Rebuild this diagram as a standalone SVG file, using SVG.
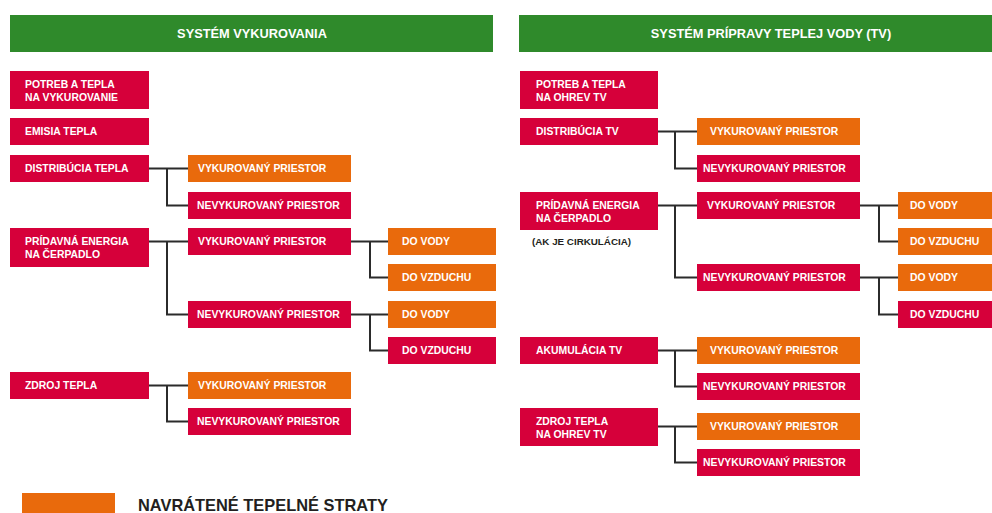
<svg xmlns="http://www.w3.org/2000/svg" width="992" height="513" viewBox="0 0 992 513">
<style>
.hdr{fill:#2f8a2b}
.r{fill:#d6003a}
.o{fill:#e96a0c}
.t{font-family:"Liberation Sans",Arial,sans-serif;font-weight:bold;font-size:10.4px;fill:#ffffff}
.h{font-family:"Liberation Sans",Arial,sans-serif;font-weight:bold;font-size:12.8px;fill:#ffffff;text-anchor:middle}
.d{font-family:"Liberation Sans",Arial,sans-serif;font-weight:bold;fill:#231f20}
.c{fill:none;stroke:#2b2b2b;stroke-width:2}
</style>
<rect width="992" height="513" fill="#ffffff"/>
<g id="header-left"><rect class="hdr" x="10" y="15" width="483" height="37"/><text class="h" x="252" y="38">SYSTÉM VYKUROVANIA</text></g>
<g id="header-right"><rect class="hdr" x="519" y="15" width="473" height="37"/><text class="h" x="771" y="38">SYSTÉM PRÍPRAVY TEPLEJ VODY (TV)</text></g>

<g id="connectors">
<path class="c" d="M149 168.5H188M167 168.5V205.5H188"/>
<path class="c" d="M149 241.5H188M167 241.5V314.5H188"/>
<path class="c" d="M351 241.5H388M370 241.5V277.5H388"/>
<path class="c" d="M351 314.5H388M370 314.5V350.5H388"/>
<path class="c" d="M149 385.5H188M167 385.5V421.5H188"/>
<path class="c" d="M658 131.5H697M675 131.5V168.5H697"/>
<path class="c" d="M658 205.5H697M675 205.5V277.5H697"/>
<path class="c" d="M860 205.5H898M879 205.5V241.5H898"/>
<path class="c" d="M860 277.5H898M879 277.5V314.5H898"/>
<path class="c" d="M658 350.5H697M675 350.5V386.5H697"/>
<path class="c" d="M658 426.5H697M675 426.5V462.5H697"/>
</g>

<g id="l-potreba"><rect class="r" x="10" y="71" width="139" height="38"/><text class="t" x="25" y="88">POTREB A TEPLA</text><text class="t" x="25" y="101">NA VYKUROVANIE</text></g>
<g id="l-emisia"><rect class="r" x="10" y="118" width="139" height="27"/><text class="t" x="25" y="135">EMISIA TEPLA</text></g>
<g id="l-distribucia"><rect class="r" x="10" y="155" width="139" height="27"/><text class="t" x="25" y="172">DISTRIBÚCIA TEPLA</text></g>
<g id="l-dist-vyk"><rect class="o" x="188" y="155" width="163" height="27"/><text class="t" x="198" y="172">VYKUROVANÝ PRIESTOR</text></g>
<g id="l-dist-nevyk"><rect class="r" x="188" y="192" width="163" height="27"/><text class="t" x="197" y="209">NEVYKUROVANÝ PRIESTOR</text></g>
<g id="l-pridavna"><rect class="r" x="10" y="228" width="139" height="39"/><text class="t" x="25" y="245">PRÍDAVNÁ ENERGIA</text><text class="t" x="25" y="258">NA ČERPADLO</text></g>
<g id="l-prid-vyk"><rect class="r" x="188" y="228" width="163" height="27"/><text class="t" x="198" y="245">VYKUROVANÝ PRIESTOR</text></g>
<g id="l-vyk-voda"><rect class="o" x="388" y="228" width="108" height="27"/><text class="t" x="402" y="245">DO VODY</text></g>
<g id="l-vyk-vzduch"><rect class="o" x="388" y="264" width="108" height="27"/><text class="t" x="402" y="281">DO VZDUCHU</text></g>
<g id="l-prid-nevyk"><rect class="r" x="188" y="301" width="163" height="27"/><text class="t" x="197" y="318">NEVYKUROVANÝ PRIESTOR</text></g>
<g id="l-nevyk-voda"><rect class="o" x="388" y="301" width="108" height="27"/><text class="t" x="402" y="318">DO VODY</text></g>
<g id="l-nevyk-vzduch"><rect class="r" x="388" y="337" width="108" height="27"/><text class="t" x="402" y="354">DO VZDUCHU</text></g>
<g id="l-zdroj"><rect class="r" x="10" y="372" width="139" height="27"/><text class="t" x="25" y="389">ZDROJ TEPLA</text></g>
<g id="l-zdroj-vyk"><rect class="o" x="188" y="372" width="163" height="27"/><text class="t" x="198" y="389">VYKUROVANÝ PRIESTOR</text></g>
<g id="l-zdroj-nevyk"><rect class="r" x="188" y="408" width="163" height="27"/><text class="t" x="197" y="425">NEVYKUROVANÝ PRIESTOR</text></g>

<g id="r-potreba"><rect class="r" x="520" y="71" width="138" height="38"/><text class="t" x="536" y="88">POTREB A TEPLA</text><text class="t" x="536" y="101">NA OHREV TV</text></g>
<g id="r-distribucia"><rect class="r" x="520" y="118" width="138" height="27"/><text class="t" x="536" y="135">DISTRIBÚCIA TV</text></g>
<g id="r-dist-vyk"><rect class="o" x="697" y="118" width="163" height="27"/><text class="t" x="710" y="135">VYKUROVANÝ PRIESTOR</text></g>
<g id="r-dist-nevyk"><rect class="r" x="697" y="155" width="163" height="27"/><text class="t" x="703" y="172">NEVYKUROVANÝ PRIESTOR</text></g>
<g id="r-pridavna"><rect class="r" x="520" y="192" width="138" height="38"/><text class="t" x="536" y="209">PRÍDAVNÁ ENERGIA</text><text class="t" x="536" y="222">NA ČERPADLO</text><text class="d" font-size="9.8" x="532" y="245">(AK JE CIRKULÁCIA)</text></g>
<g id="r-prid-vyk"><rect class="r" x="697" y="192" width="163" height="27"/><text class="t" x="707" y="209">VYKUROVANÝ PRIESTOR</text></g>
<g id="r-vyk-voda"><rect class="o" x="898" y="192" width="94" height="27"/><text class="t" x="910" y="209">DO VODY</text></g>
<g id="r-vyk-vzduch"><rect class="o" x="898" y="228" width="94" height="27"/><text class="t" x="910" y="245">DO VZDUCHU</text></g>
<g id="r-prid-nevyk"><rect class="r" x="697" y="264" width="163" height="27"/><text class="t" x="703" y="281">NEVYKUROVANÝ PRIESTOR</text></g>
<g id="r-nevyk-voda"><rect class="o" x="898" y="264" width="94" height="27"/><text class="t" x="910" y="281">DO VODY</text></g>
<g id="r-nevyk-vzduch"><rect class="r" x="898" y="301" width="94" height="27"/><text class="t" x="910" y="318">DO VZDUCHU</text></g>
<g id="r-akumulacia"><rect class="r" x="520" y="337" width="138" height="27"/><text class="t" x="536" y="354">AKUMULÁCIA TV</text></g>
<g id="r-akum-vyk"><rect class="o" x="697" y="337" width="163" height="27"/><text class="t" x="710" y="354">VYKUROVANÝ PRIESTOR</text></g>
<g id="r-akum-nevyk"><rect class="r" x="697" y="373" width="163" height="27"/><text class="t" x="703" y="390">NEVYKUROVANÝ PRIESTOR</text></g>
<g id="r-zdroj"><rect class="r" x="520" y="408" width="138" height="38"/><text class="t" x="536" y="425">ZDROJ TEPLA</text><text class="t" x="536" y="438">NA OHREV TV</text></g>
<g id="r-zdroj-vyk"><rect class="o" x="697" y="413" width="163" height="27"/><text class="t" x="710" y="430">VYKUROVANÝ PRIESTOR</text></g>
<g id="r-zdroj-nevyk"><rect class="r" x="697" y="449" width="163" height="27"/><text class="t" x="703" y="466">NEVYKUROVANÝ PRIESTOR</text></g>

<g id="legend"><rect class="o" x="22" y="493" width="93" height="25"/><text class="d" font-size="16.4" x="138" y="511">NAVRÁTENÉ TEPELNÉ STRATY</text></g>
</svg>
